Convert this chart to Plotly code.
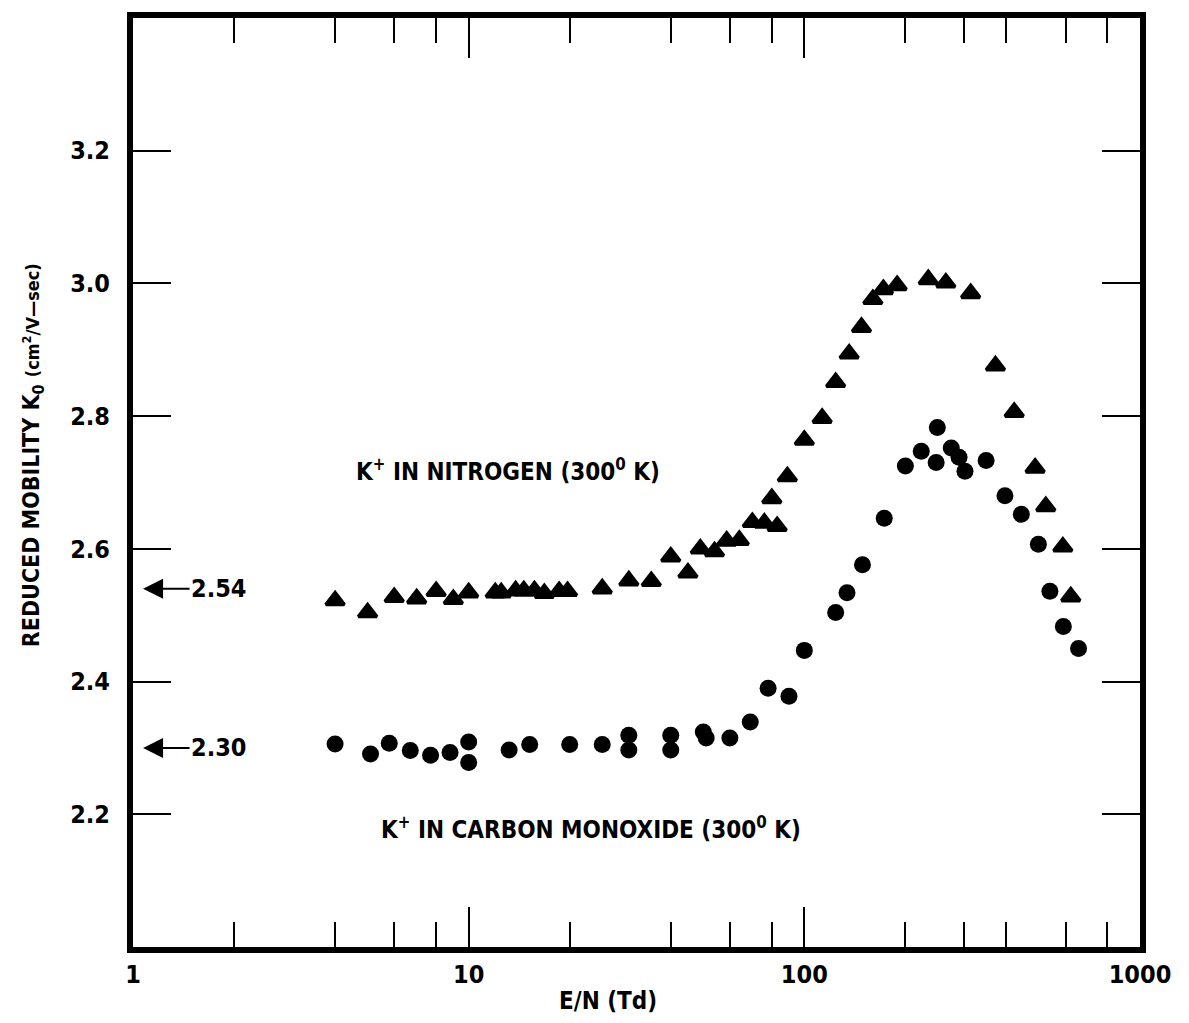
import plotly.graph_objects as go

# K+ in nitrogen (triangles): E/N (Td) and reduced mobility K0 (cm^2/V-sec)
n2_en = [4, 5, 6, 7, 8, 9, 10, 12, 12.5, 13.8, 14.6, 15.7, 16.8, 18.6, 19.7, 25,
         30, 35, 40, 45, 49, 54, 58.7, 64, 70, 76, 83, 80, 89, 100,
         113, 124, 136, 148, 160, 172, 189, 234, 264, 313,
         371, 422, 487, 524, 589, 622]
n2_k0 = [2.522, 2.504, 2.527, 2.525, 2.536, 2.524, 2.534, 2.534, 2.534, 2.537, 2.537,
         2.537, 2.533, 2.536, 2.536, 2.540,
         2.552, 2.551, 2.588, 2.564, 2.600, 2.596, 2.612, 2.613, 2.640, 2.639, 2.634,
         2.676, 2.709, 2.764,
         2.797, 2.851, 2.894, 2.934, 2.976, 2.991, 2.997, 3.006, 3.001, 2.985,
         2.876, 2.806, 2.722, 2.664, 2.603, 2.528]

# K+ in carbon monoxide (circles)
co_en = [4, 5.1, 5.8, 6.7, 7.7, 8.8, 10, 10, 13.2, 15.2, 20, 25, 30, 30, 40, 40,
         50, 51, 60, 69, 78, 90, 100,
         124, 134, 149, 173, 200, 223, 249, 247, 274, 289, 301, 348,
         396, 443, 498, 539, 591, 656]
co_k0 = [2.306, 2.291, 2.307, 2.296, 2.289, 2.293, 2.309, 2.278, 2.297, 2.305, 2.305,
         2.305, 2.319, 2.297, 2.319, 2.297,
         2.324, 2.315, 2.315, 2.339, 2.390, 2.378, 2.447,
         2.504, 2.534, 2.576, 2.646, 2.725, 2.747, 2.783, 2.730, 2.752, 2.738, 2.717, 2.733,
         2.680, 2.652, 2.607, 2.536, 2.483, 2.450]

# low-field limits marked on the left edge
limit_vals = [2.54, 2.30]
limit_text = ["2.54", "2.30"]

x_tick_vals = [1, 10, 100, 1000]
x_tick_text = ["1", "10", "100", "1000"]
x_minor_vals = [2, 4, 6, 8, 20, 40, 60, 80, 200, 300, 400, 600, 800]
y_tick_vals = [2.2, 2.4, 2.6, 2.8, 3.0, 3.2]
y_tick_text = ["2.2", "2.4", "2.6", "2.8", "3.0", "3.2"]

FONT = "Liberation Sans Narrow, DejaVu Sans Condensed, Arial Narrow, sans-serif"
W, H = 1189, 1023
L, R, T, B = 133, 1140, 12, 947


def px_to_paper(px, py):
    return (px - L) / (R - L), (B - py) / (B - T)


fig = go.Figure()
fig.add_trace(go.Scatter(
    x=n2_en, y=n2_k0, mode="markers", name="N2",
    marker=dict(symbol="triangle-up", size=16, color="black",
                line=dict(color="black", width=3.5)),
))
fig.add_trace(go.Scatter(
    x=co_en, y=co_k0, mode="markers", name="CO",
    marker=dict(symbol="circle", size=17, color="black", line=dict(width=0)),
))

annotations = []
for v, t in zip(limit_vals, limit_text):
    annotations.append(dict(
        x=0.03, y=v, xref="x", yref="y", text=t, showarrow=True,
        ax=76, ay=0, arrowhead=2, arrowsize=2, arrowwidth=2, arrowcolor="black",
        font=dict(family=FONT, size=25, color="black", weight="bold"),
    ))


def label(px, py, text, size, angle=0):
    x, y = px_to_paper(px, py)
    return dict(
        x=x, y=y, xref="paper", yref="paper", showarrow=False,
        xanchor="center", yanchor="middle", textangle=angle, text=text,
        font=dict(family=FONT, size=size, color="black", weight="bold"),
    )


annotations.append(label(508, 467, "K<sup>+</sup> IN NITROGEN (300<sup>0</sup> K)", 24))
annotations.append(label(591, 827, "K<sup>+</sup> IN CARBON MONOXIDE (300<sup>0</sup> K)", 24))
annotations.append(label(608, 1001, "E/N (Td)", 24))
annotations.append(label(
    33, 452,
    "REDUCED MOBILITY K<sub>0</sub> <span style='font-size:18px'>(cm<sup>2</sup>/V\u2014sec)</span>",
    23, angle=-90))

fig.update_layout(
    width=W, height=H,
    margin=dict(l=L, r=W - R, t=T, b=H - B),
    paper_bgcolor="white", plot_bgcolor="white",
    showlegend=False,
    annotations=annotations,
    font=dict(family=FONT, color="black"),
)
fig.update_xaxes(
    type="log", range=[0, 3],
    tickvals=x_tick_vals, ticktext=x_tick_text,
    ticks="inside", ticklen=40, tickwidth=2, tickcolor="black",
    minor=dict(tickvals=x_minor_vals, ticks="inside", ticklen=25,
               tickwidth=2, tickcolor="black", showgrid=False),
    showline=True, linewidth=6, linecolor="black", mirror="ticks",
    showgrid=False, zeroline=False,
    tickfont=dict(family=FONT, size=25, color="black", weight="bold"),
    ticklabelstandoff=0,
)
fig.update_yaxes(
    range=[2.0, 3.4],
    tickvals=y_tick_vals, ticktext=y_tick_text,
    ticks="inside", ticklen=38, tickwidth=2, tickcolor="black",
    showline=True, linewidth=6, linecolor="black", mirror="ticks",
    showgrid=False, zeroline=False,
    tickfont=dict(family=FONT, size=25, color="black", weight="bold"),
    ticklabelstandoff=12,
)

fig.write_html("out.html")
